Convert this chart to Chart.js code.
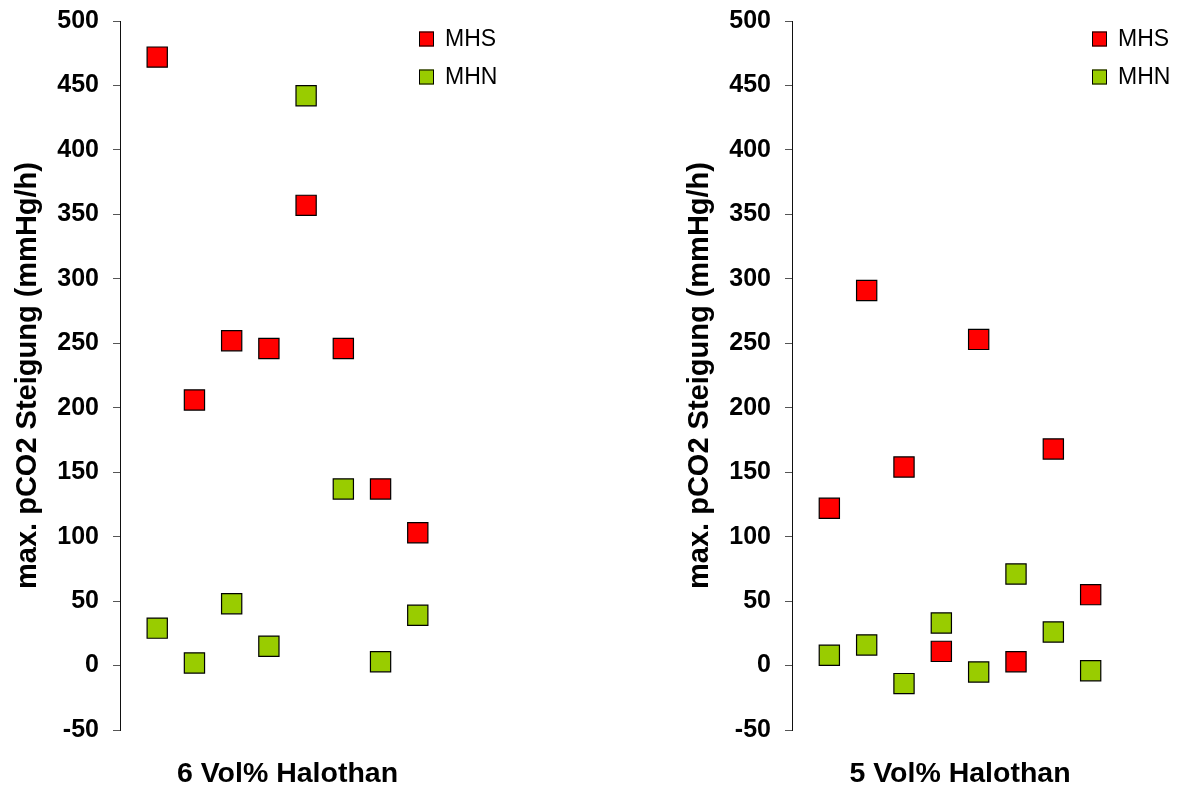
<!DOCTYPE html>
<html><head><meta charset="utf-8">
<script src="https://cdn.jsdelivr.net/npm/chart.js@4.4.1/dist/chart.umd.min.js"></script>
<style>
html,body{margin:0;padding:0;background:#fff;}
#wrap{position:relative;width:1182px;height:791px;overflow:hidden;}
canvas{position:absolute;top:-8px;}
#c1{left:0}
#c2{left:672px}
</style></head><body>
<div id="wrap">
<canvas id="c1" width="520" height="799"></canvas>
<canvas id="c2" width="510" height="799"></canvas>
</div>
<script>
// ---- data ----
const subjects = [1, 2, 3, 4, 5, 6, 7, 8];
const seriesNames = ['MHS', 'MHN'];
const yTicksMin = -50;
const yTicksMax = 500;
const yTickStep = 50;
const yTitle = 'max. pCO2 Steigung (mmHg/h)';
const panelTitles = ['6 Vol% Halothan', '5 Vol% Halothan'];

const mhs6 = [472, 206, 252, 246, 357, 246, 137, 103];
const mhn6 = [29, 2, 48, 15, 442, 137, 3, 39];
const mhs5 = [122, 291, 154, 11, 253, 3, 168, 55];
const mhn5 = [8, 16, -14, 33, -5, 71, 26, -4];

// ---- styling ----
const FONT = '"Liberation Sans", Arial, sans-serif';
const COLORS = ['#FF0000', '#99CC00'];

const cornerLegend = {
  id: 'cornerLegend',
  afterDraw(chart) {
    const {ctx, chartArea} = chart;
    const x0 = chartArea.right - 36;
    const rowY = [47, 85];
    chart.data.datasets.forEach((ds, i) => {
      ctx.save();
      ctx.fillStyle = ds.backgroundColor;
      ctx.strokeStyle = '#000';
      ctx.lineWidth = 1;
      ctx.fillRect(x0, rowY[i] - 7.5, 15, 15);
      ctx.strokeRect(x0 + 0.5, rowY[i] - 7, 14, 14);
      ctx.fillStyle = '#000';
      ctx.font = '23px ' + FONT;
      ctx.textBaseline = 'middle';
      ctx.textAlign = 'left';
      ctx.fillText(ds.label, x0 + 26, rowY[i] + 1);
      ctx.restore();
    });
  }
};

function makeChart(id, title, mhs, mhn, padRight) {
  const series = [mhs, mhn];
  return new Chart(document.getElementById(id), {
    type: 'scatter',
    data: {
      datasets: seriesNames.map((name, i) => ({
        label: name,
        data: subjects.map((s, k) => ({x: s, y: series[i][k]})),
        backgroundColor: COLORS[i],
        borderColor: '#000',
        borderWidth: 1.2,
        pointStyle: 'rect',
        pointRadius: 14.3,
        pointHoverRadius: 14.3
      }))
    },
    options: {
      responsive: false,
      animation: false,
      events: [],
      layout: {padding: {top: 5, right: padRight, left: 0, bottom: 0}},
      plugins: {legend: {display: false}, tooltip: {enabled: false}},
      scales: {
        x: {
          type: 'linear', min: 0, max: 9,
          ticks: {display: false},
          grid: {display: false},
          border: {display: false},
          title: {display: true, text: title, color: '#000',
                  font: {family: FONT, size: 28.5, weight: 'bold'},
                  padding: {top: 0, bottom: 0}},
          afterFit: s => { s.height = 61; }
        },
        y: {
          min: yTicksMin, max: yTicksMax,
          ticks: {stepSize: yTickStep, color: '#000', padding: 14,
                  font: {family: FONT, size: 25, weight: 'bold'}},
          grid: {drawOnChartArea: false, drawTicks: true, tickLength: 7, color: '#555', lineWidth: 1},
          border: {display: true, color: '#111', width: 1},
          title: {display: true, text: yTitle, color: '#000',
                  font: {family: FONT, size: 29, weight: 'bold'},
                  padding: {top: 10.5, bottom: 0}},
          afterFit: s => { s.width = 120; }
        }
      }
    },
    plugins: [cornerLegend]
  });
}

makeChart('c1', panelTitles[0], mhs6, mhn6, 65);
makeChart('c2', panelTitles[1], mhs5, mhn5, 54);
</script>
</body></html>
